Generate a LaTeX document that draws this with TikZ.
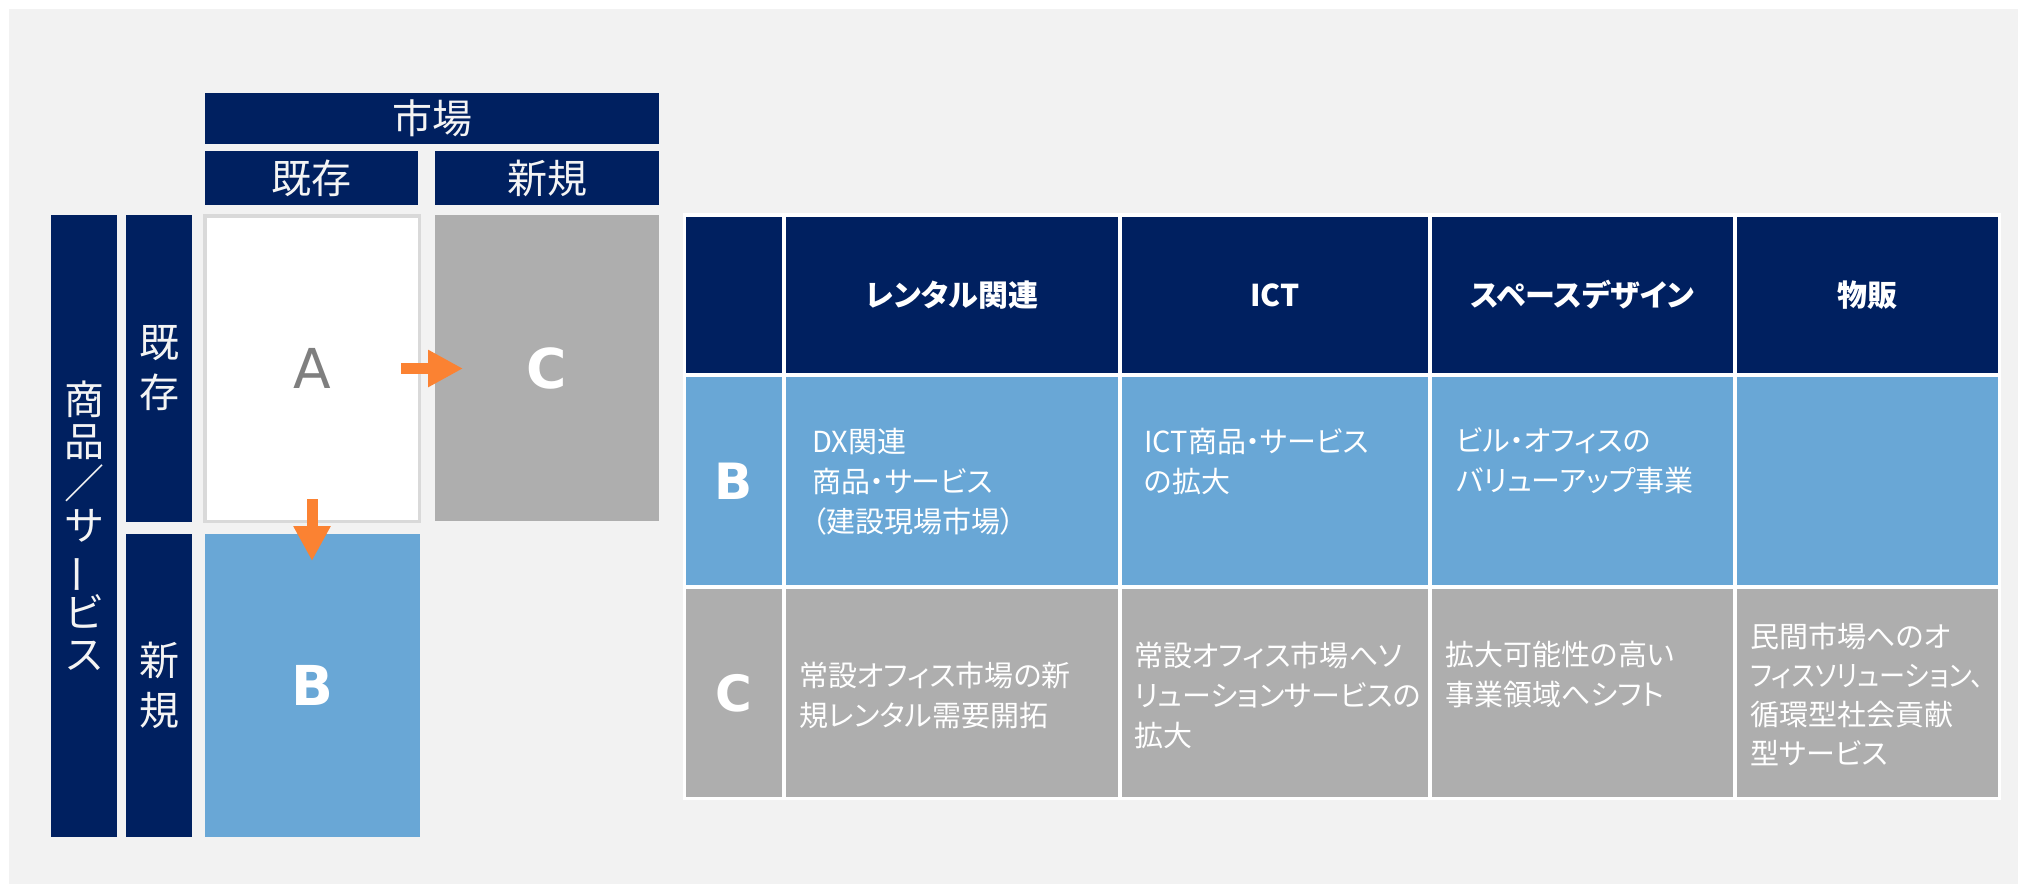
\documentclass[tikz,border=0pt]{standalone}
\usepackage{fontspec}
\usepackage{graphicx}
\setmainfont{Noto Sans CJK JP}[RawFeature=+palt]
\newfontfamily\latinfont{DejaVu Sans}
\usetikzlibrary{arrows.meta}
\definecolor{navy}{HTML}{002060}
\definecolor{skyb}{HTML}{69A7D6}
\definecolor{cellgray}{HTML}{AEAEAE}
\definecolor{bggray}{HTML}{F2F2F2}
\definecolor{aborder}{HTML}{D9D9D9}
\definecolor{arroworange}{HTML}{FB8232}
\definecolor{agray}{HTML}{7F7F7F}
\definecolor{softwhite}{HTML}{F4F4F4}
\begin{document}
\begin{tikzpicture}[x=1pt,y=-1pt,
  rectbox/.style n args={3}{fill=#1, draw=none, minimum width=#2pt, minimum height=#3pt, inner sep=0pt, outer sep=0pt},
  hdtext/.style={text=softwhite, font=\fontsize{40}{48}\selectfont},
  vtext/.style={text=softwhite, align=center, font=\fontsize{40}{50}\selectfont},
  vtextb/.style={text=softwhite, align=center, font=\fontsize{40}{42}\selectfont},
  biglabel/.style={font=\latinfont\bfseries\fontsize{55}{60}\selectfont, text=white},
  tablabel/.style={font=\latinfont\bfseries\fontsize{50}{55}\selectfont, text=white},
  colhead/.style={font=\bfseries\fontsize{30}{36}\selectfont, text=white},
  body/.style={anchor=west, align=left, inner sep=0pt, text=white, font=\fontsize{29}{40}\selectfont},
  arrowst/.style={draw=arroworange, line width=11pt, -{Triangle[length=35pt,width=35pt]}}
]
\useasboundingbox (0,0) rectangle (2018,884);
\fill[white] (0,0) rectangle (2018,884);
\fill[bggray] (9,9) rectangle (2018,884);

% --- matrix headers
\node[rectbox={navy}{454}{51}, hdtext] (mkt) at (432,118.5) {市場};
\node[rectbox={navy}{213}{54}, hdtext] (hexist) at (311.5,178) {既存};
\node[rectbox={navy}{224}{54}, hdtext] (hnew) at (547,178) {新規};

% --- row labels
\node[rectbox={navy}{66}{622}, vtextb] (bar) at (84,526) {商\\品\\／\\サ\\\rotatebox[origin=c]{90}{ー}\\ビ\\ス};
\node[rectbox={navy}{66}{307}, vtext] (rexist) at (159,368.5) {既\\存};
\node[rectbox={navy}{66}{303}, vtext] (rnew) at (159,685.5) {新\\規};

% --- quadrants
\node[draw=aborder, line width=3.5pt, fill=white, minimum width=214.5pt, minimum height=305.5pt, inner sep=0pt, outer sep=0pt,
      font=\latinfont\fontsize{55}{60}\selectfont, text=agray] (A) at (312,368.5) {A};
\node[rectbox={cellgray}{224}{306}, biglabel] (C) at (547,368) {C};
\node[rectbox={skyb}{215}{303}, biglabel] (B) at (312.5,685.5) {B};

% --- arrows
\coordinate (acS) at ([xshift=-18pt]A.east);
\coordinate (acE) at ([xshift=28pt]C.west |- acS);
\draw[arrowst] (acS) -- (acE);
\coordinate (abS) at ([yshift=22pt]A.south);
\coordinate (abE) at ([yshift=-27pt]B.north -| abS);
\draw[arrowst] (abS) -- (abE);

% --- table
\node[rectbox={white}{1318}{587}] (tbl) at (1342,506.5) {};
% header row
\node[rectbox={navy}{96}{156}] (t00) at (734,295) {};
\node[rectbox={navy}{332}{156}, colhead] (t01) at (952,295) {レンタル関連};
\node[rectbox={navy}{306}{156}, colhead] (t02) at (1275,295) {ICT};
\node[rectbox={navy}{301}{156}, colhead] (t03) at (1582.5,295) {スペースデザイン};
\node[rectbox={navy}{261}{156}, colhead] (t04) at (1867.5,295) {物販};
% B row
\node[rectbox={skyb}{96}{208}, tablabel] (t10) at (734,481) {B};
\node[rectbox={skyb}{332}{208}] (t11) at (952,481) {};
\node[rectbox={skyb}{306}{208}] (t12) at (1275,481) {};
\node[rectbox={skyb}{301}{208}] (t13) at (1582.5,481) {};
\node[rectbox={skyb}{261}{208}] (t14) at (1867.5,481) {};
% C row
\node[rectbox={cellgray}{96}{208}, tablabel] (t20) at (734,693) {C};
\node[rectbox={cellgray}{332}{208}] (t21) at (952,693) {};
\node[rectbox={cellgray}{306}{208}] (t22) at (1275,693) {};
\node[rectbox={cellgray}{301}{208}] (t23) at (1582.5,693) {};
\node[rectbox={cellgray}{261}{208}] (t24) at (1867.5,693) {};

% cell texts
\node[body] (x11) at (812,482) {DX関連\\商品・サービス\\（建設現場市場）};
\node[body] (x12) at (1144,461) {ICT商品・サービス\\の拡大};
\node[body] (x13) at (1456,461) {ビル・オフィスの\\バリューアップ事業};
\node[body] (x21) at (799,695) {常設オフィス市場の新\\規レンタル需要開拓};
\node[body] (x22) at (1134,695) {常設オフィス市場へソ\\リューションサービスの\\拡大};
\node[body] (x23) at (1445,674) {拡大可能性の高い\\事業領域へシフト};
\node[body, font=\fontsize{29}{39}\selectfont] (x24) at (1750,694) {民間市場へのオ\\\scalebox{0.9}[1]{フィスソリューション、}\\循環型社会貢献\\型サービス};
\end{tikzpicture}
\end{document}
